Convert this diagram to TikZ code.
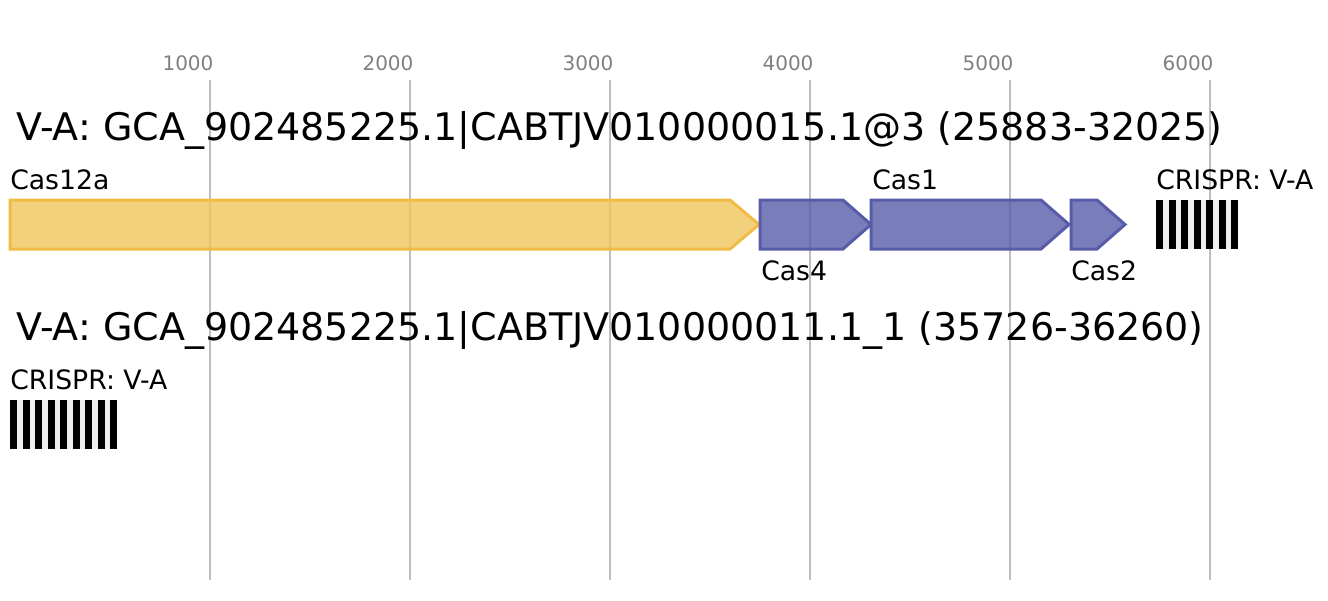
\documentclass[tikz,border=0pt]{standalone}
\usepackage{fontspec}
\setmainfont{DejaVu Sans}
\usepackage{tikz}

\definecolor{gridgray}{RGB}{190,190,190}
\definecolor{ticktext}{RGB}{128,128,128}
\definecolor{casorange}{RGB}{240,188,70}
\definecolor{casorangefill}{RGB}{240,196,90}
\definecolor{casblue}{RGB}{88,92,168}
\definecolor{spacergray}{RGB}{238,238,238}

\tikzset{
  ticklabel/.style={anchor=base,text=ticktext,font=\fontsize{15}{18}\selectfont,inner sep=0pt},
  locustitle/.style={anchor=base west,font=\fontsize{28.5}{34}\selectfont,inner sep=0pt},
  genelabel/.style={anchor=base west,font=\fontsize{20}{24}\selectfont,inner sep=0pt},
  gridline/.style={draw=gridgray,line width=1.5pt},
  effector/.style={draw=casorange,fill=casorangefill,fill opacity=0.8,line width=2.25pt,line join=miter},
  adaptation/.style={draw=casblue,fill=casblue,fill opacity=0.8,line width=2.25pt,line join=miter},
  repeatbar/.style={fill=black}
}

\begin{document}
\begin{tikzpicture}[x=0.75pt,y=-0.75pt]
        \useasboundingbox (0,0) rectangle (1328,600);
        % scale: 200 px per 1000 bp
        \foreach \t in {1,...,6}
            \draw[gridline] (10+200*\t,80) -- (10+200*\t,580);
        \node at (188,70) [ticklabel] (t1) {1000};
        \node at (388,70) [ticklabel] (t2) {2000};
        \node at (588,70) [ticklabel] (t3) {3000};
        \node at (788,70) [ticklabel] (t4) {4000};
        \node at (988,70) [ticklabel] (t5) {5000};
        \node at (1188,70) [ticklabel] (t6) {6000};

        % first locus
        \node at (16,140) [locustitle] (locusa) {V-A: GCA\_902485225.1|CABTJV010000015.1@3 (25883-32025)};
        \draw[effector] (10,200) -- (730,200) -- (759,224.5) -- (730,249) -- (10,249) -- cycle;
        \draw[adaptation] (760,200) -- (843,200) -- (871,224.5) -- (843,249) -- (760,249) -- cycle;
        \draw[adaptation] (871,200) -- (1041,200) -- (1069,224.5) -- (1041,249) -- (871,249) -- cycle;
        \draw[adaptation] (1071,200) -- (1097,200) -- (1125,224.5) -- (1097,249) -- (1071,249) -- cycle;
        \node at (10,189) [genelabel] (cas12a) {Cas12a};
        \node at (761,280) [genelabel] (cas4) {Cas4};
        \node at (872,189) [genelabel] (cas1) {Cas1};
        \node at (1071,280) [genelabel] (cas2) {Cas2};
        \node at (1156,189) [genelabel] (crispra) {CRISPR: V-A};
        \fill[spacergray] (1156,200) rectangle (1238,249);
        \foreach \r in {0,...,6}
            \fill[repeatbar] (1156+12.5*\r,200) rectangle (1163+12.5*\r,249);

        % second locus
        \node at (16,340) [locustitle] (locusb) {V-A: GCA\_902485225.1|CABTJV010000011.1\_1 (35726-36260)};
        \node at (10,389) [genelabel] (crisprb) {CRISPR: V-A};
        \fill[spacergray] (10,400) rectangle (117,449);
        \foreach \r in {0,...,8}
            \fill[repeatbar] (10+12.5*\r,400) rectangle (17+12.5*\r,449);
\end{tikzpicture}
\end{document}
